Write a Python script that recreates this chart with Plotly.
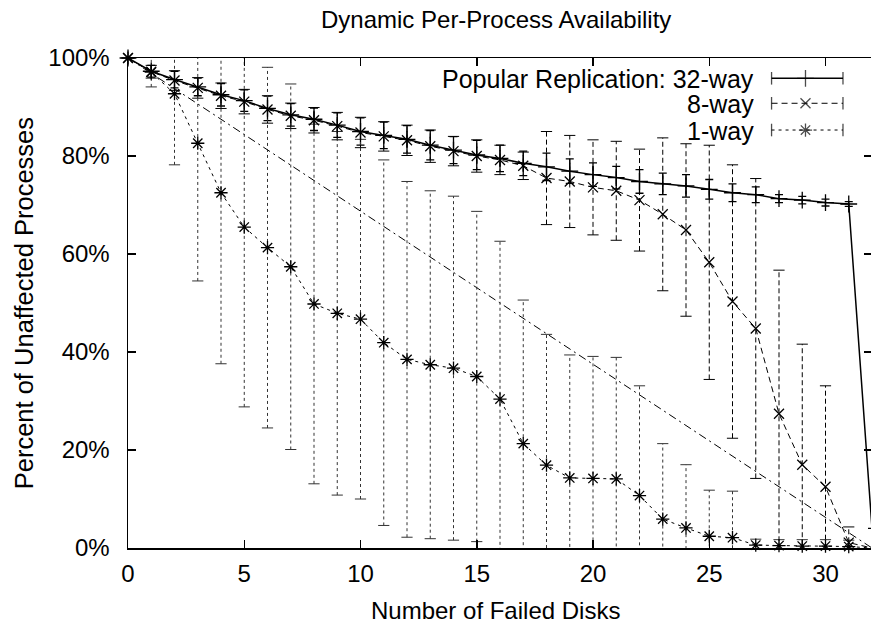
import plotly.graph_objects as go

# ---------------- data ----------------
failed_disks = list(range(0, 33))

way32_mean = [100, 97.3, 95.6, 94.1, 92.5, 91.3, 89.7, 88.4, 87.5, 86.3, 85.0, 84.2,
              83.4, 82.2, 81.2, 80.2, 79.5, 78.5, 77.8, 76.9, 76.2, 75.6, 74.8, 74.3,
              73.9, 73.2, 72.5, 72.1, 71.3, 71.0, 70.5, 70.2, 4.0]
way32_err = [0, 1.2, 1.7, 1.8, 2.3, 2.2, 2.5, 2.3, 2.3, 2.5, 2.8, 2.7,
             2.8, 3.0, 2.75, 3.0, 2.7, 2.5, 2.8, 2.5, 2.4, 2.3, 2.4, 2.2,
             2.3, 2.0, 1.8, 1.6, 0.8, 0.75, 0.7, 0.5, 0]

way8_mean = [100, 97.2, 95.4, 93.9, 92.3, 91.1, 89.5, 88.2, 87.3, 86.1, 84.8, 84.0,
             83.2, 82.0, 81.0, 80.0, 79.2, 78.0, 75.5, 74.8, 73.6, 72.9, 71.0, 68.1,
             64.9, 58.3, 50.3, 44.8, 27.4, 17.0, 12.5, 1.1, 0]
way8_err = [0, 1.3, 2.0, 2.1, 2.6, 2.5, 2.8, 2.6, 2.6, 2.8, 3.1, 3.0,
            3.1, 3.3, 3.0, 3.3, 3.0, 2.8, 9.5, 9.4, 9.7, 10.1, 10.4, 15.6,
            17.6, 23.9, 27.9, 30.6, 29.3, 24.6, 20.6, 3.2, 0]

way1_mean = [100, 97.1, 92.7, 82.6, 72.5, 65.5, 61.3, 57.4, 49.8, 47.9, 46.7, 41.9,
             38.5, 37.4, 36.7, 35.0, 30.4, 21.3, 16.9, 14.3, 14.2, 14.1, 10.7, 5.9,
             4.1, 2.4, 2.1, 0.6, 0.5, 0.4, 0.4, 0.3, 0]
way1_err = [0, 3.0, 14.5, 28.1, 34.9, 36.7, 36.8, 37.3, 36.7, 37.1, 36.7, 37.3,
            36.3, 35.5, 35.1, 33.7, 32.2, 29.3, 26.7, 25.1, 24.9, 24.8, 22.4, 15.4,
            12.9, 9.4, 9.5, 1.2, 1.2, 1.3, 1.3, 1.3, 0]

diag_x = [0, 32]
diag_y = [100, 0]

series_names = ["Popular Replication: 32-way", "8-way", "1-way"]
x_ticks = [0, 5, 10, 15, 20, 25, 30]
y_ticks = [0, 20, 40, 60, 80, 100]
y_tick_labels = ["0%", "20%", "40%", "60%", "80%", "100%"]

title_text = "Dynamic Per-Process Availability"
x_title = "Number of Failed Disks"
y_title = "Percent of Unaffected Processes"

# ---------------- style ----------------
FONT = "Liberation Sans, Arial, Helvetica, sans-serif"
FS = 24
INK = "#000000"
BARINK = "#333333"


def bar_segments(xs, means, errs):
    sx, sy = [], []
    for x, m, e in zip(xs, means, errs):
        if e > 0:
            sx += [x, x, None]
            sy += [m - e, m + e, None]
    return sx, sy


def bar_caps(xs, means, errs):
    cx, cy = [], []
    for x, m, e in zip(xs, means, errs):
        if e > 0:
            cx += [x, x]
            cy += [m - e, m + e]
    return cx, cy


fig = go.Figure()

# diagonal dash-dot reference line
fig.add_trace(go.Scatter(x=diag_x, y=diag_y, mode="lines",
                         line=dict(color=INK, width=1, dash="8px,4px,2px,4px"),
                         showlegend=False, hoverinfo="skip"))

# 32-way : solid line, solid error bars
fig.add_trace(go.Scatter(x=failed_disks, y=way32_mean, mode="lines",
                         line=dict(color=INK, width=1.5),
                         error_y=dict(type="data", array=way32_err, visible=True,
                                      color=INK, thickness=1.3, width=4),
                         showlegend=False, hoverinfo="skip"))

# 8-way : dashed line, dashed error bars
bx, by = bar_segments(failed_disks, way8_mean, way8_err)
fig.add_trace(go.Scatter(x=bx, y=by, mode="lines",
                         line=dict(color=INK, width=1, dash="5px,3px"),
                         showlegend=False, hoverinfo="skip"))
cx, cy = bar_caps(failed_disks, way8_mean, way8_err)
fig.add_trace(go.Scatter(x=cx, y=cy, mode="markers",
                         marker=dict(symbol="line-ew-open", size=8, color=INK,
                                     line=dict(color=INK, width=1)),
                         showlegend=False, hoverinfo="skip"))
fig.add_trace(go.Scatter(x=failed_disks, y=way8_mean, mode="lines",
                         line=dict(color=INK, width=1, dash="6px,4px"),
                         showlegend=False, hoverinfo="skip"))

# 1-way : dotted line, dotted error bars
bx, by = bar_segments(failed_disks, way1_mean, way1_err)
fig.add_trace(go.Scatter(x=bx, y=by, mode="lines",
                         line=dict(color=BARINK, width=1, dash="3px,3px"),
                         showlegend=False, hoverinfo="skip"))
cx, cy = bar_caps(failed_disks, way1_mean, way1_err)
fig.add_trace(go.Scatter(x=cx, y=cy, mode="markers",
                         marker=dict(symbol="line-ew-open", size=8, color=BARINK,
                                     line=dict(color=BARINK, width=1)),
                         showlegend=False, hoverinfo="skip"))
fig.add_trace(go.Scatter(x=failed_disks, y=way1_mean, mode="lines",
                         line=dict(color=INK, width=1, dash="3px,4px"),
                         showlegend=False, hoverinfo="skip"))

# point markers (not clipped, so the corner point shows fully)
for ys, sym, sz in [(way32_mean, "cross-thin-open", 12),
                    (way8_mean, "x-thin-open", 10),
                    (way1_mean, "asterisk-open", 11)]:
    fig.add_trace(go.Scatter(x=failed_disks[:-1], y=ys[:-1], mode="markers",
                             marker=dict(symbol=sym, size=sz, color=INK,
                                         line=dict(color=INK, width=1.3)),
                             cliponaxis=False, showlegend=False, hoverinfo="skip"))

# ---------------- gnuplot-style key (text left, sample right) ----------------
key_rows_y = [0.9586, 0.9076, 0.853]
key_text_x = 0.8432
key_x0, key_xm, key_x1 = 0.865, 0.9106, 0.961
key_styles = [
    dict(dash="solid", width=1.5, sym="cross-thin-open", sz=12),
    dict(dash="6px,4px", width=1, sym="x-thin-open", sz=10),
    dict(dash="3px,4px", width=1, sym="asterisk-open", sz=11),
]
for name, ky, st in zip(series_names, key_rows_y, key_styles):
    fig.add_trace(go.Scatter(
        x=[key_x0, key_xm, key_x1], y=[ky, ky, ky], xaxis="x2", yaxis="y2",
        mode="lines+markers",
        line=dict(color=INK, width=st["width"], dash=st["dash"]),
        marker=dict(symbol=["line-ns-open", st["sym"], "line-ns-open"],
                    size=[9, st["sz"], 9], color=INK,
                    line=dict(color=INK, width=1.3)),
        cliponaxis=False, showlegend=False, hoverinfo="skip"))
    fig.add_annotation(x=key_text_x, y=ky, xref="paper", yref="paper",
                       text=name, showarrow=False, xanchor="right", yanchor="middle",
                       height=29, valign="middle", borderpad=0,
                       font=dict(family=FONT, size=25, color=INK))

# titles
fig.add_annotation(x=0.4946, y=1.0776, xref="paper", yref="paper",
                   text=title_text, showarrow=False, xanchor="center", yanchor="middle",
                   font=dict(family=FONT, size=FS, color=INK))
fig.add_annotation(x=0.4946, y=-0.1266, xref="paper", yref="paper",
                   text=x_title, showarrow=False, xanchor="center", yanchor="middle",
                   font=dict(family=FONT, size=FS, color=INK))
fig.add_annotation(x=-0.1394, y=0.5, xref="paper", yref="paper", textangle=-90,
                   text=y_title, showarrow=False, xanchor="center", yanchor="middle",
                   font=dict(family=FONT, size=25.5, color=INK))

fig.update_layout(
    width=874, height=626,
    margin=dict(l=128, r=0, t=58, b=78, pad=0),
    paper_bgcolor="white", plot_bgcolor="white",
    font=dict(family=FONT, size=FS, color=INK),
    showlegend=False,
    xaxis=dict(range=[0, 32], tickvals=x_ticks, ticks="inside", ticklen=8,
               tickwidth=1.5, tickcolor=INK, showline=True, linecolor=INK,
               linewidth=1.5, mirror="ticks", showgrid=False, zeroline=False,
               ticklabelstandoff=4),
    yaxis=dict(range=[0, 100], tickvals=y_ticks, ticktext=y_tick_labels,
               ticks="inside", ticklen=8, tickwidth=1.5, tickcolor=INK,
               showline=True, linecolor=INK, linewidth=1.5, mirror="ticks",
               showgrid=False, zeroline=False, ticklabelstandoff=12),
    xaxis2=dict(overlaying="x", range=[0, 1], visible=False, anchor="y2"),
    yaxis2=dict(overlaying="y", range=[0, 1], visible=False, anchor="x2"),
)

fig.write_html("out.html",
               config={"displayModeBar": False, "staticPlot": True},
               post_script="document.body.style.margin='0';"
                           "document.body.style.overflow='hidden';")
